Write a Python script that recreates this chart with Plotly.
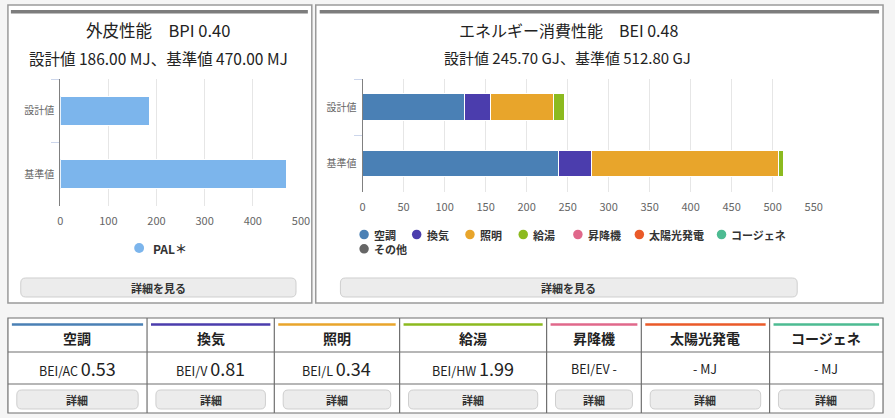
import plotly.graph_objects as go

# ---------------- data ----------------
ROWS = ["設計値", "基準値"]
PAL_VALUES = [186.0, 470.0]          # MJ
BPI = 0.40

CATEGORIES = ["空調", "換気", "照明", "給湯", "昇降機", "太陽光発電", "コージェネ", "その他"]
COLORS = ["#4a80b5", "#4b3dad", "#e8a52b", "#8cba1f", "#e0688b", "#ea5a29", "#4dbb92", "#666666"]
DESIGN = [124.5, 31.7, 77.0, 12.5, 0, 0, 0, 0]      # GJ
STANDARD = [238.5, 40.1, 228.0, 6.2, 0, 0, 0, 0]    # GJ
BEI = 0.48

TABLE_CATS = ["空調", "換気", "照明", "給湯", "昇降機", "太陽光発電", "コージェネ"]
TABLE_PREFIX = ["BEI/AC", "BEI/V", "BEI/L", "BEI/HW", "BEI/EV", "", ""]
TABLE_VALUES = ["0.53", "0.81", "0.34", "1.99", "-", "-", "-"]

# ---------------- layout helpers ----------------
W, H = 895, 418
FONT = "Noto Sans CJK JP"


def X(px):
    return px / W


def Y(py):
    return 1 - py / H


shapes = []
annotations = []


def rect(x0, y0, x1, y1, fill, line="rgba(0,0,0,0)", lw=0, layer="below"):
    shapes.append(dict(type="rect", xref="paper", yref="paper",
                       x0=X(x0), x1=X(x1), y0=Y(y1), y1=Y(y0),
                       fillcolor=fill, line=dict(color=line, width=lw), layer=layer))


def hline(x0, x1, y, color, lw=1):
    shapes.append(dict(type="line", xref="paper", yref="paper",
                       x0=X(x0), x1=X(x1), y0=Y(y), y1=Y(y),
                       line=dict(color=color, width=lw), layer="below"))


def vline(x, y0, y1, color, lw=1):
    shapes.append(dict(type="line", xref="paper", yref="paper",
                       x0=X(x), x1=X(x), y0=Y(y0), y1=Y(y1),
                       line=dict(color=color, width=lw), layer="below"))


def rrect(x0, y0, x1, y1, r, fill, line, lw=1):
    def p(x, y):
        return f"{X(x):.5f},{Y(y):.5f}"
    path = (f"M {p(x0 + r, y0)} L {p(x1 - r, y0)} Q {p(x1, y0)} {p(x1, y0 + r)} "
            f"L {p(x1, y1 - r)} Q {p(x1, y1)} {p(x1 - r, y1)} "
            f"L {p(x0 + r, y1)} Q {p(x0, y1)} {p(x0, y1 - r)} "
            f"L {p(x0, y0 + r)} Q {p(x0, y0)} {p(x0 + r, y0)} Z")
    shapes.append(dict(type="path", xref="paper", yref="paper", path=path,
                       fillcolor=fill, line=dict(color=line, width=lw), layer="below"))


def text(cx, cy, t, size=12, color="#333333", bold=False, xanchor="center"):
    if bold:
        t = f"<b>{t}</b>"
    annotations.append(dict(xref="paper", yref="paper", x=X(cx), y=Y(cy), text=t,
                            showarrow=False, xanchor=xanchor, yanchor="middle",
                            align="left" if xanchor == "left" else "center",
                            borderpad=0,
                            font=dict(family=FONT, size=size, color=color)))


def circle(cx, cy, r, color):
    shapes.append(dict(type="circle", xref="paper", yref="paper",
                       x0=X(cx - r), x1=X(cx + r), y0=Y(cy + r), y1=Y(cy - r),
                       fillcolor=color, line=dict(width=0), layer="above"))


def button(x0, y0, x1, y1, label, size=11):
    rrect(x0, y0, x1, y1, 5, "#ececec", "#cfcfcf", 1)
    text((x0 + x1) / 2, (y0 + y1) / 2 + 0.5, label, size=size, color="#333333", bold=True)


# ---------------- panels ----------------
rect(5, 5, 313, 303, "#ffffff", "#9a9a9a", 1.5)
rect(317, 5, 892, 303, "#ffffff", "#9a9a9a", 1.5)
rect(8, 10, 309, 13.5, "#7d7d7d")
rect(321, 10, 888, 13.5, "#7d7d7d")

# titles
text(157, 30, f"外皮性能　BPI {BPI:.2f}", size=16.5, color="#222222")
text(158, 58, f"設計値 {PAL_VALUES[0]:.2f} MJ、基準値 {PAL_VALUES[1]:.2f} MJ", size=15.5, color="#222222")
text(573, 30, f"エネルギー消費性能　BEI {BEI:.2f}", size=16, color="#222222")
text(572, 58, f"設計値 {sum(DESIGN):.2f} GJ、基準値 {sum(STANDARD):.2f} GJ", size=15, color="#222222")

# legends (drawn manually, Highcharts style)
circle(138, 248, 5, "#7cb5ec")
text(151, 248.5, "PAL＊", size=12, color="#333333", bold=True, xanchor="left")

LEG_FONT = 11
LINE = LEG_FONT * 1.3
ROW1 = 234.5
LEG_X = [366, 419.3, 473.3, 527.3, 582.7, 645, 728.3]
# first seven items on row 1; the wrapped last item shares column 1
for name, col, lx in zip(CATEGORIES[1:7], COLORS[1:7], LEG_X[1:]):
    circle(lx, ROW1, 4.8, col)
    text(lx + 9, ROW1 + 0.5, name, size=LEG_FONT, color="#333333", bold=True, xanchor="left")
circle(LEG_X[0], ROW1, 4.8, COLORS[0])
circle(LEG_X[0], ROW1 + LINE, 4.8, COLORS[7])
text(LEG_X[0] + 9, ROW1 + LINE / 2 + 0.5, f"{CATEGORIES[0]}<br>{CATEGORIES[7]}",
     size=LEG_FONT, color="#333333", bold=True, xanchor="left")

button(18, 278, 297, 297, "詳細を見る")
button(342, 278, 805, 297, "詳細を見る")

# ---------------- bottom table ----------------
TX = [5, 146, 275, 402, 551, 647, 777, 892]
TY = [318, 352, 384, 413]
rect(TX[0], TY[0], TX[-1], TY[-1], "#ffffff", "#6f6f6f", 1.2)
for yy in TY[1:-1]:
    hline(TX[0], TX[-1], yy, "#6f6f6f", 1.2)
for xx in TX[1:-1]:
    vline(xx, TY[0], TY[-1], "#6f6f6f", 1.2)

cat_color = dict(zip(CATEGORIES, COLORS))
for i, cat in enumerate(TABLE_CATS):
    x0, x1 = TX[i], TX[i + 1]
    cx = (x0 + x1) / 2
    rect(x0 + 4, 323.2, x1 - 4, 325.8, cat_color[cat])
    text(cx, 338, cat, size=14, color="#222222", bold=True)
    if TABLE_PREFIX[i]:
        if TABLE_VALUES[i] == "-":
            t = f"{TABLE_PREFIX[i]} -"
        else:
            t = f"{TABLE_PREFIX[i]} <span style='font-size:18px'>{TABLE_VALUES[i]}</span>"
    else:
        t = f"{TABLE_VALUES[i]} MJ"
    text(cx, 368, t, size=12.5, color="#222222")
    button(x0 + 9, 390, x1 - 9, 409, "詳細")

# ---------------- traces ----------------
fig = go.Figure()
fig.add_trace(go.Bar(x=PAL_VALUES, y=ROWS, orientation="h", width=0.46,
                     marker=dict(color="#7cb5ec", line=dict(color="#ffffff", width=1)),
                     xaxis="x", yaxis="y", showlegend=False, name="PAL＊"))
for name, col, d, s in zip(CATEGORIES, COLORS, DESIGN, STANDARD):
    fig.add_trace(go.Bar(x=[d, s], y=ROWS, orientation="h", width=0.47, name=name,
                         marker=dict(color=col, line=dict(color="#ffffff",
                                                          width=1 if (d or s) else 0)),
                         xaxis="x2", yaxis="y2", showlegend=False))

common_x = dict(showgrid=True, gridcolor="#e6e6e6", gridwidth=1, zeroline=False,
                showline=False, ticks="", tickfont=dict(family=FONT, size=11, color="#666666"),
                ticklabelstandoff=7, fixedrange=True)
common_y = dict(type="category", categoryorder="array", categoryarray=ROWS[::-1],
                range=[-0.5, 1.5], showgrid=False, zeroline=False,
                showline=True, linecolor="#808080", linewidth=1,
                ticks="outside", tickson="boundaries", ticklen=8, tickcolor="#ccd6eb",
                ticklabelstandoff=3,
                tickfont=dict(family=FONT, size=10, color="#666666"), fixedrange=True)

fig.update_layout(
    width=W, height=H,
    margin=dict(l=0, r=0, t=0, b=0),
    paper_bgcolor="#f5f5f5",
    plot_bgcolor="rgba(0,0,0,0)",
    barmode="stack",
    showlegend=False,
    font=dict(family=FONT),
    xaxis=dict(domain=[X(58), X(302)], range=[0, 500], dtick=100, anchor="y", **common_x),
    yaxis=dict(domain=[Y(205.7), Y(79)], anchor="x", **common_y),
    xaxis2=dict(domain=[X(364.5), X(821.7)], range=[0, 550], dtick=50, anchor="y2", **common_x),
    yaxis2=dict(domain=[Y(191.7), Y(79)], anchor="x2", **common_y),
    shapes=shapes,
    annotations=annotations,
)

fig.write_html("out.html")
